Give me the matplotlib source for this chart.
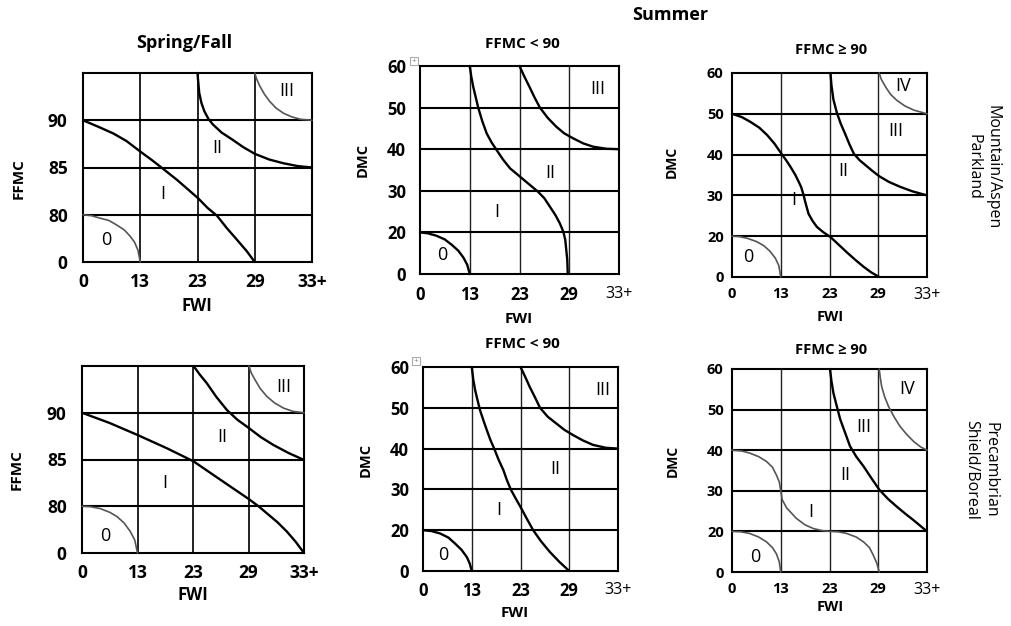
import matplotlib
matplotlib.use("Agg")
import matplotlib.pyplot as plt
from matplotlib.patches import Rectangle

W, H = 1011, 626
plt.rcParams['font.family'] = ['Open Sans', 'DejaVu Sans']

# axis category labels (grid lines are equally spaced)
fwi_labels = ["0", "13", "23", "29", "33+"]
ffmc_labels = ["0", "80", "85", "90"]
dmc_labels = ["0", "20", "30", "40", "50", "60"]

# curves, in grid units (column along FWI, row along FFMC/DMC)
# Mountain/Aspen Parkland - Spring/Fall
mtn_sf_0 = ([0, 0.15, 0.29, 0.45, 0.58, 0.72, 0.82, 0.90, 0.96, 1.0],
            [1.0, 0.98, 0.93, 0.88, 0.79, 0.68, 0.55, 0.42, 0.25, 0])
mtn_sf_1 = ([0, 0.29, 0.53, 0.76, 1.02, 1.20, 1.37, 1.64, 1.84, 2.01, 2.18, 2.34, 2.51, 2.69, 2.86, 3.0],
            [3.0, 2.85, 2.72, 2.56, 2.32, 2.16, 2.0, 1.74, 1.53, 1.35, 1.14, 0.98, 0.72, 0.47, 0.23, 0])
mtn_sf_2 = ([2.0, 2.01, 2.03, 2.07, 2.12, 2.19, 2.27, 2.42, 2.61, 2.8, 3.0, 3.25, 3.5, 3.75, 4.0],
            [4.0, 3.85, 3.58, 3.36, 3.19, 3.03, 2.91, 2.74, 2.59, 2.43, 2.29, 2.17, 2.09, 2.03, 2.0])
mtn_sf_3 = ([3.0, 3.03, 3.09, 3.17, 3.26, 3.37, 3.5, 3.65, 3.8, 4.0],
            [4.0, 3.88, 3.72, 3.55, 3.40, 3.26, 3.15, 3.07, 3.02, 3.0])

# Mountain/Aspen Parkland - Summer, FFMC < 90
mtn_lo_0 = ([0, 0.15, 0.33, 0.5, 0.64, 0.77, 0.87, 0.95, 1.0],
            [1.0, 0.98, 0.92, 0.83, 0.70, 0.56, 0.40, 0.22, 0])
mtn_lo_1 = ([1.0, 1.03, 1.07, 1.12, 1.17, 1.25, 1.34, 1.44, 1.54, 1.67, 1.81, 2.01, 2.21, 2.37, 2.5,
             2.61, 2.72, 2.81, 2.88, 2.92, 2.96, 2.97],
            [5.0, 4.75, 4.5, 4.25, 4.0, 3.68, 3.38, 3.16, 2.98, 2.75, 2.54, 2.34, 2.14, 1.98, 1.82,
             1.62, 1.42, 1.22, 1.02, 0.82, 0.34, 0])
mtn_lo_2 = ([2.0, 2.1, 2.2, 2.3, 2.41, 2.57, 2.74, 2.9, 3.08, 3.28, 3.48, 3.75, 4.0],
            [5.0, 4.74, 4.5, 4.25, 4.0, 3.75, 3.54, 3.38, 3.26, 3.14, 3.06, 3.01, 3.0])

# Mountain/Aspen Parkland - Summer, FFMC >= 90
mtn_hi_0 = ([0, 0.15, 0.31, 0.5, 0.65, 0.78, 0.89, 0.96, 1.0],
            [1.0, 0.99, 0.95, 0.87, 0.77, 0.63, 0.46, 0.28, 0])
mtn_hi_1 = ([0, 0.2, 0.38, 0.56, 0.72, 0.87, 1.01, 1.1, 1.2, 1.3, 1.37, 1.42, 1.47, 1.5, 1.57, 1.65, 1.74,
             1.87, 2.02, 2.19, 2.36, 2.53, 2.7, 2.86, 3.02],
            [4.0, 3.92, 3.80, 3.66, 3.48, 3.27, 3.03, 2.88, 2.7, 2.5, 2.33, 2.2, 2.0, 1.85, 1.55, 1.38, 1.23,
             1.1, 0.98, 0.79, 0.6, 0.42, 0.25, 0.11, 0])
mtn_hi_2 = ([2.02, 2.04, 2.08, 2.15, 2.23, 2.32, 2.41, 2.50, 2.62, 2.74, 2.88, 3.02, 3.22, 3.45, 3.7, 4.0],
            [5.0, 4.7, 4.35, 4.03, 3.76, 3.51, 3.25, 3.02, 2.86, 2.74, 2.6, 2.47, 2.33, 2.21, 2.1, 2.0])
mtn_hi_3 = ([3.02, 3.06, 3.15, 3.25, 3.38, 3.55, 3.73, 4.0],
            [5.0, 4.85, 4.66, 4.48, 4.33, 4.19, 4.09, 4.0])

# Precambrian Shield/Boreal - Spring/Fall
bor_sf_0 = ([0, 0.15, 0.33, 0.5, 0.63, 0.76, 0.87, 0.95, 1.0],
            [1.0, 0.99, 0.95, 0.87, 0.78, 0.64, 0.46, 0.28, 0])
bor_sf_1 = ([0, 0.5, 0.99, 1.53, 2.01, 2.49, 3.01, 3.18, 3.33, 3.52, 3.69, 3.85, 4.0],
            [3.0, 2.78, 2.53, 2.24, 1.96, 1.57, 1.15, 1.0, 0.85, 0.66, 0.46, 0.24, 0])
bor_sf_2 = ([2.01, 2.12, 2.25, 2.42, 2.61, 2.8, 3.01, 3.22, 3.45, 3.72, 4.0],
            [4.0, 3.82, 3.63, 3.34, 3.06, 2.85, 2.67, 2.48, 2.31, 2.14, 1.99])
bor_sf_3 = ([3.01, 3.05, 3.12, 3.21, 3.33, 3.47, 3.63, 3.8, 4.0],
            [4.0, 3.85, 3.70, 3.52, 3.35, 3.21, 3.10, 3.03, 3.0])

# Precambrian Shield/Boreal - Summer, FFMC < 90
bor_lo_0 = ([0, 0.17, 0.35, 0.52, 0.66, 0.79, 0.90, 0.96, 1.0],
            [1.0, 0.98, 0.92, 0.82, 0.67, 0.52, 0.34, 0.18, 0])
bor_lo_1 = ([1.0, 1.03, 1.07, 1.12, 1.17, 1.24, 1.31, 1.38, 1.46, 1.55, 1.65, 1.72, 1.80, 1.9, 2.0, 2.13,
             2.26, 2.42, 2.60, 2.8, 3.0],
            [5.0, 4.7, 4.43, 4.18, 3.94, 3.69, 3.45, 3.22, 3.0, 2.73, 2.47, 2.23, 2.0, 1.78, 1.57, 1.28,
             1.0, 0.73, 0.47, 0.22, 0])
bor_lo_2 = ([2.0, 2.1, 2.19, 2.3, 2.40, 2.56, 2.74, 2.9, 3.08, 3.28, 3.49, 3.75, 4.0],
            [5.0, 4.75, 4.51, 4.25, 4.0, 3.78, 3.61, 3.46, 3.33, 3.2, 3.09, 3.02, 3.0])

# Precambrian Shield/Boreal - Summer, FFMC >= 90
bor_hi_0 = ([0, 0.18, 0.36, 0.55, 0.71, 0.83, 0.91, 0.97, 1.0],
            [1.0, 0.99, 0.95, 0.86, 0.74, 0.6, 0.45, 0.25, 0])
bor_hi_1 = ([0, 0.2, 0.36, 0.55, 0.71, 0.83, 0.91, 0.97, 1.0, 1.03, 1.12, 1.32, 1.5, 1.67, 1.85, 2.01,
             2.18, 2.35, 2.55, 2.70, 2.82, 2.90, 2.97, 3.02],
            [3.0, 2.98, 2.93, 2.84, 2.72, 2.58, 2.39, 2.22, 2.0, 1.78, 1.58, 1.32, 1.16, 1.07, 1.02, 1.0,
             0.99, 0.95, 0.86, 0.74, 0.6, 0.41, 0.22, 0])
bor_hi_2 = ([2.01, 2.04, 2.08, 2.15, 2.22, 2.32, 2.42, 2.55, 2.70, 2.86, 3.02, 3.2, 3.38, 3.55, 3.72, 3.86, 4.0],
            [5.0, 4.7, 4.41, 4.08, 3.76, 3.43, 3.10, 2.84, 2.60, 2.31, 2.03, 1.8, 1.61, 1.44, 1.28, 1.14, 1.0])
bor_hi_3 = ([3.02, 3.04, 3.07, 3.13, 3.21, 3.32, 3.45, 3.59, 3.73, 3.87, 4.0],
            [5.0, 4.8, 4.57, 4.32, 4.08, 3.83, 3.58, 3.38, 3.21, 3.08, 3.0])

# zone names
zones4 = ["0", "I", "II", "III"]
zones5 = ["0", "I", "II", "III", "IV"]

BLACK = dict(color="black", lw=1.7)
GRAY = dict(color="#555555", lw=1.2)


def px(x, y):
    return x / W, 1 - y / H


fig = plt.figure(figsize=(W / 100, H / 100), dpi=100)

panels = [
    dict(box=(83, 73, 312, 262), ylab=ffmc_labels, curves=[(mtn_sf_0, GRAY), (mtn_sf_1, BLACK), (mtn_sf_2, BLACK), (mtn_sf_3, GRAY)],
         zones=zones4, spots=[(0.41, 0.47), (1.40, 1.43), (2.34, 2.41), (3.56, 3.61)], tfs=12.5, ypad=11, xpad=8, summer=False),
    dict(box=(420, 66, 619, 274), ylab=dmc_labels, curves=[(mtn_lo_0, BLACK), (mtn_lo_1, BLACK), (mtn_lo_2, BLACK)],
         zones=zones4, spots=[(0.45, 0.46), (1.54, 1.5), (2.61, 2.42), (3.58, 4.44)], tfs=12, ypad=10, xpad=9, summer=True),
    dict(box=(732, 73, 927, 277), ylab=dmc_labels, curves=[(mtn_hi_0, GRAY), (mtn_hi_1, BLACK), (mtn_hi_2, BLACK), (mtn_hi_3, GRAY)],
         zones=zones5, spots=[(0.34, 0.49), (1.26, 1.88), (2.29, 2.61), (3.35, 3.58), (3.52, 4.67)], tfs=10.5, ypad=6, xpad=7, summer=True),
    dict(box=(82, 366, 304, 553), ylab=ffmc_labels, curves=[(bor_sf_0, GRAY), (bor_sf_1, BLACK), (bor_sf_2, BLACK), (bor_sf_3, GRAY)],
         zones=zones4, spots=[(0.42, 0.36), (1.5, 1.49), (2.52, 2.49), (3.63, 3.56)], tfs=12.5, ypad=11, xpad=8, summer=False),
    dict(box=(423, 367, 618, 571), ylab=dmc_labels, curves=[(bor_lo_0, BLACK), (bor_lo_1, BLACK), (bor_lo_2, BLACK)],
         zones=zones4, spots=[(0.42, 0.38), (1.55, 1.49), (2.71, 2.49), (3.69, 4.44)], tfs=12, ypad=10, xpad=8, summer=True),
    dict(box=(732, 369, 927, 572), ylab=dmc_labels, curves=[(bor_hi_0, GRAY), (bor_hi_1, GRAY), (bor_hi_2, BLACK), (bor_hi_3, GRAY)],
         zones=zones5, spots=[(0.47, 0.37), (1.62, 1.48), (2.32, 2.39), (2.70, 3.57), (3.59, 4.51)], tfs=10.5, ypad=6, xpad=7, summer=True),
]

for p in panels:
    l, t, r, b = p["box"]
    ax = fig.add_axes([l / W, 1 - b / H, (r - l) / W, (b - t) / H])
    nrows = 4 if not p["summer"] else 5
    ax.set_xlim(0, 4)
    ax.set_ylim(0, nrows)
    ax.set_xticks(range(len(fwi_labels)))
    ax.set_xticklabels(fwi_labels, fontsize=p["tfs"], fontweight="bold")
    ax.set_yticks(range(len(p["ylab"])))
    ax.set_yticklabels(p["ylab"], fontsize=p["tfs"], fontweight="bold")
    ax.tick_params(length=0)
    ax.tick_params(axis="x", pad=p["xpad"])
    ax.tick_params(axis="y", pad=p["ypad"])
    if p["summer"]:
        last = ax.get_xticklabels()[-1]
        last.set_fontweight("normal")
        last.set_fontsize(11.5)
    vlw = 1.0 if p["summer"] else 1.4
    for i in range(1, 4):
        ax.axvline(i, color="#222222", lw=vlw, zorder=1)
    for j in range(1, nrows):
        ax.axhline(j, color="black", lw=1.5, zorder=1)
    for s in ax.spines.values():
        s.set_linewidth(1.5)
    for (xs, ys), st in p["curves"]:
        ax.plot(xs, ys, clip_on=False, solid_capstyle="round", solid_joinstyle="round", zorder=3, **st)
    for name, (zx, zy) in zip(p["zones"], p["spots"]):
        ax.text(zx, zy, name, ha="center", va="center", fontsize=13)


def ftext(x, y, s, **kw):
    fx, fy = px(x, y)
    fig.text(fx, fy, s, ha="center", va="center", **kw)


ftext(670, 15, "Summer", fontsize=13, fontweight="bold")
ftext(184, 43, "Spring/Fall", fontsize=13, fontweight="bold")
ftext(522, 44, "FFMC < 90", fontsize=11, fontweight="bold")
ftext(831, 50, "FFMC \u2265 90", fontsize=10.5, fontweight="bold")
ftext(522, 344, "FFMC < 90", fontsize=11, fontweight="bold")
ftext(831, 350, "FFMC \u2265 90", fontsize=10.5, fontweight="bold")

ftext(197, 306, "FWI", fontsize=12, fontweight="bold")
ftext(519, 319, "FWI", fontsize=11, fontweight="bold")
ftext(830, 317, "FWI", fontsize=10.5, fontweight="bold")
ftext(193, 595, "FWI", fontsize=12, fontweight="bold")
ftext(515, 613, "FWI", fontsize=11, fontweight="bold")
ftext(830, 607, "FWI", fontsize=10.5, fontweight="bold")

ftext(19, 179, "FFMC", fontsize=11, fontweight="bold", rotation=90)
ftext(17, 470, "FFMC", fontsize=11, fontweight="bold", rotation=90)
ftext(363, 160, "DMC", fontsize=10.5, fontweight="bold", rotation=90)
ftext(672, 162, "DMC", fontsize=10, fontweight="bold", rotation=90)
ftext(366, 460, "DMC", fontsize=10.5, fontweight="bold", rotation=90)
ftext(673, 461, "DMC", fontsize=10, fontweight="bold", rotation=90)

ftext(983, 167, "Mountain/Aspen\nParkland", fontsize=11.5, rotation=-90, linespacing=1.25, multialignment="center")
ftext(981, 470, "Precambrian\nShield/Boreal", fontsize=11.5, rotation=-90, linespacing=1.25, multialignment="center")

# small table-move handles left over from the source document
for hx, hy in [(414, 61), (416, 361)]:
    fx, fy = px(hx - 4, hy + 4)
    fig.patches.append(Rectangle((fx, fy), 8 / W, 8 / H, transform=fig.transFigure,
                                 fill=False, edgecolor="#aaaaaa", lw=0.8))
    ftext(hx, hy, "+", fontsize=6, color="#777777")

fig.savefig("out.png", dpi=100)
